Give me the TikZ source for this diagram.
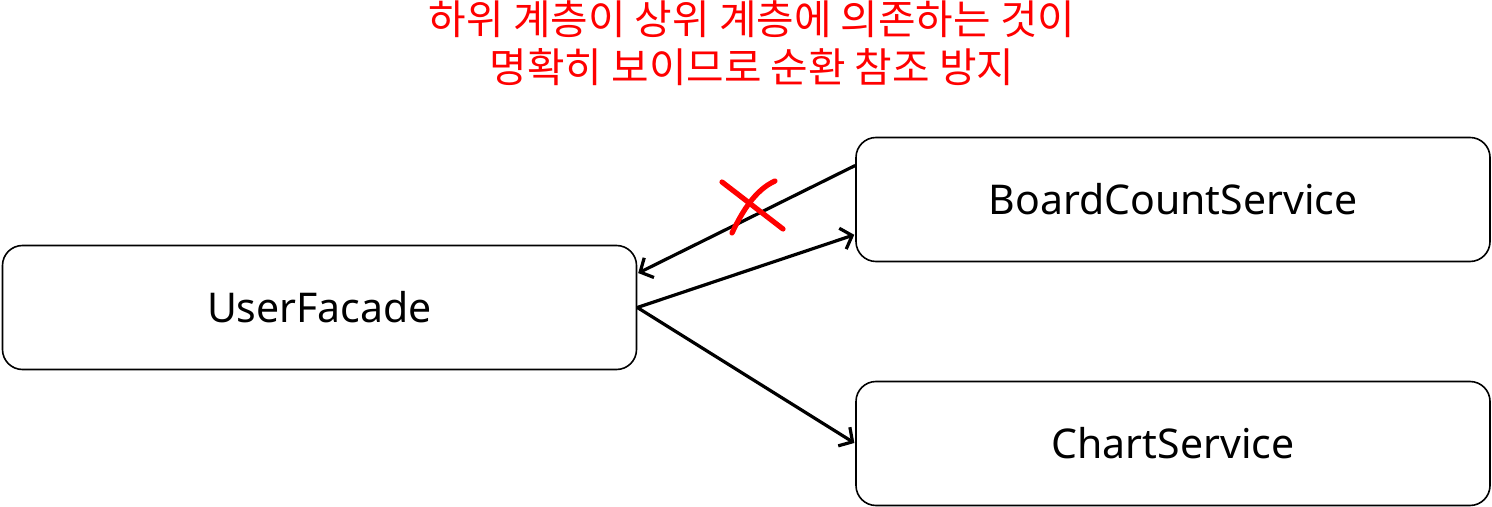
\documentclass[tikz,border=0pt]{standalone}
\usepackage{fontspec}
\setmainfont{Noto Sans}
\newfontfamily\krfont{Noto Sans CJK KR}
\usetikzlibrary{arrows.meta}

\begin{document}
\begin{tikzpicture}[x=0.5pt,y=-0.5pt,
  >={Straight Barb[length=5pt,width=11pt,line width=1.6pt]},
  link/.style={->,line width=1.6pt,shorten >=0.5pt},
  box/.style={draw,rounded corners=10pt,line width=0.8pt,minimum width=317pt,minimum height=62pt,inner sep=0pt,font=\fontsize{20.5}{24}\selectfont},
  note/.style={text=red,align=center,font=\krfont\fontsize{20.4}{24}\selectfont},
  cross/.style={red,line width=2.6pt,line cap=round}]
  \useasboundingbox (0,0) rectangle (1492,507);

  % services
  \node [box] (uf) at (319.5,307.5) {UserFacade};
  \node [box] (bcs) at (1173,199.5) {BoardCountService};
  \node [box] (cs) at (1173,443.5) {ChartService};

  \node [note] (msg) at (752,43) {하위 계층이 상위 계층에 의존하는 것이\\명확히 보이므로 순환 참조 방지};

  % dependencies
  \draw [link] ([yshift=17pt]bcs.west) -- ([yshift=17pt]uf.east);
  \draw [link] (uf.east) -- ([yshift=-17.5pt]bcs.west);
  \draw [link] (uf.east) -- (cs.west);

  % forbidden
  \draw [cross] (722,182) -- (783,229);
  \draw [cross] (775,181) .. controls (755,190) and (742,212) .. (732,233);
\end{tikzpicture}
\end{document}
